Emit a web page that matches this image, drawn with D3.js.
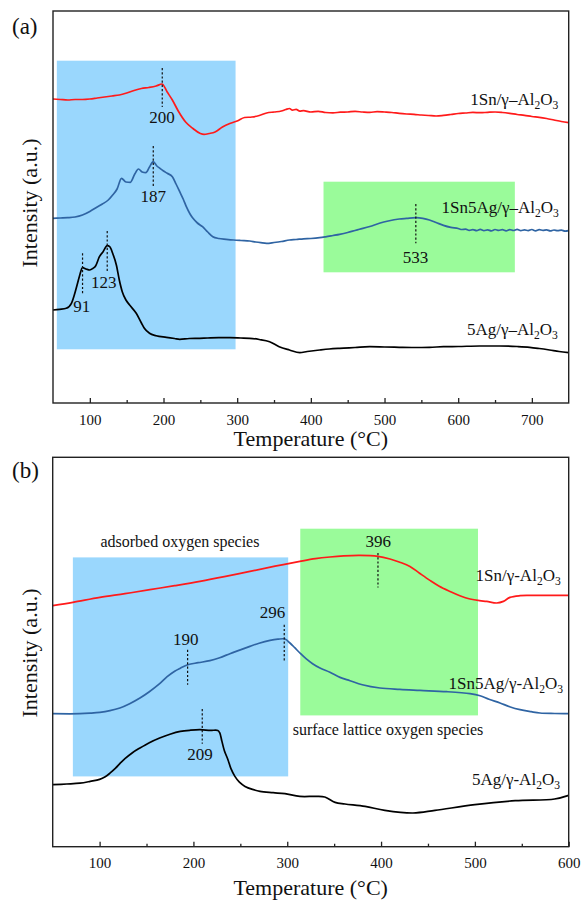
<!DOCTYPE html>
<html><head><meta charset="utf-8">
<script src="https://cdn.jsdelivr.net/npm/d3@7"></script>
<style>
body{margin:0;background:#fff}
svg{display:block}
text{font-family:"Liberation Serif","Times New Roman",serif;fill:#111}
</style>
</head><body>
<svg id="c" width="582" height="901"></svg>
<script>
// ---------- DATA: panel (a), [temperature °C, intensity a.u.] ----------
const seriesNamesA = ["1Sn/γ–Al|2|O|3", "1Sn5Ag/γ–Al|2|O|3", "5Ag/γ–Al|2|O|3"];
const redA = [[50,304],[60,303.5],[70,303],[80,303.5],[90,303.5],[100,304],[110,305],[120,306],[130,307],[140,308],
 [150,310],[160,312.5],[170,314.5],[180,315.5],[190,317],[198,319],[205,311],[212,303],[220,292],[230,281],
 [240,274.5],[250,269.5],[255,268.7],[262,269.5],[270,271],[280,276],[290,279.5],[300,282],[310,285.5],[320,286],
 [330,287.5],[340,290],[350,291],[360,292],[366,293.5],[371,294.5],[375,292.8],[380,293.6],[385,291.8],[390,292.3],[400,291],
 [410,291.7],[420,290.5],[430,290.2],[440,290.8],[450,291],[460,291.6],[470,291],[480,290.6],[490,291.4],[500,291],
 [510,290.5],[520,289.6],[530,289],[540,288.6],[550,288],[560,287.5],[570,287],[580,287.6],[590,288.5],[600,289.5],
 [610,290],[620,290.6],[630,290.3],[640,290.7],[650,291],[660,290.5],[670,289.6],[680,288.5],[690,287.6],[700,286.5],
 [710,285.7],[720,284.5],[730,283],[740,281.5],[750,280.3]];
const blueA = [[50,184.7],[60,185],[70,185.3],[80,186],[90,188],[100,191.5],[110,196],[117,199],[125,203],[131,208],
 [137,214],[143,224.7],[149,221],[155,220.7],[161,229],[166,234],[171,231],[176,230.3],[181,236],[186,241.3],
 [191,237],[195,234.7],[200,232],[205,229.7],[212,226.3],[217,219],[222,211.3],[227,203.5],[231,196.3],[236,189],
 [240,184.7],[246,180],[253,176.3],[260,171],[267,166.3],[275,164.5],[285,163.7],[295,163],[305,162.5],[317,162],
 [325,161],[332,160.3],[340,159.7],[350,160.5],[360,161.5],[371,163],[380,163.5],[390,164.2],[400,164.5],[412,165.3],
 [420,166.2],[430,167.5],[439,168.7],[450,170.5],[460,172.5],[466,173.7],[480,176.5],[493,179.7],[505,182],[520,184],
 [530,184.6],[543,185.3],[552,184.6],[561,183],[570,180.5],[580,177.6],[590,175.6],[600,174.5],[605,173.5],[610,173.8],
 [615,172.6],[620,173.4],[625,172.3],[630,173.6],[635,172.4],[640,173.2],[645,172.1],[650,173.5],[655,172.6],[660,173.3],
 [665,172.2],[670,173.4],[675,172.5],[680,173.6],[685,172.3],[690,173.1],[695,172.4],[700,173.5],[705,172.2],[710,173.3],
 [715,172.6],[720,173.2],[725,172.1],[730,173],[735,172.3],[740,172.9],[745,171.8],[750,172.3]];
const blackA = [[50,93],[59,93.7],[68,94.7],[75,99.7],[81.5,114.7],[86,127],[90,135.3],[95,134],[100,133],[104,134.5],
 [108,137.3],[113,146.3],[118,151.3],[123.6,157.3],[127,156.3],[131,149.7],[136,138],[140,123],[144,111.3],[149,103],
 [154,98],[163,89.7],[170,80],[174,74.7],[181,69.7],[190,67.3],[204,65.7],[215,64.5],[222,63.7],[235,64.5],
 [249,64.7],[260,65],[275,65.3],[290,65.3],[305,65],[317,64.7],[330,63.5],[344,61.3],[357,56.3],[371,53],
 [385,50.3],[395,51.5],[412,53],[425,54],[439,54.7],[460,55.5],[480,56.3],[500,56],[520,55.7],[540,55.5],
 [561,55.7],[580,56.3],[600,56.5],[629,57],[656,57],[680,56.5],[697,55.7],[710,54.5],[724,53],[737,51.5],[750,50.3]];
const peakTempsA = [198.3, 186.1, 542.5, 90.1, 123.6];
const peakLabelsA = ["200", "187", "533", "91", "123"];

// ---------- DATA: panel (b) ----------
const seriesNamesB = ["1Sn/γ-Al|2|O|3", "1Sn5Ag/γ-Al|2|O|3", "5Ag/γ-Al|2|O|3"];
const redB = [[50,241],[71.5,244.3],[100.3,249.3],[127,253],[153.6,257],[180,261],[206.9,265.3],[233,270],[260.2,275.3],
 [287,280.5],[313.5,285.3],[330,288],[345.5,289.7],[360,290.8],[377.5,291.3],[396.7,290.3],[409.5,287.7],[420,284.5],
 [430.8,280.3],[441,273.5],[452.1,266.3],[462,260.5],[473.5,255.3],[484,251],[494.8,247.7],[505,246],[512.6,245.3],
 [523.3,243.7],[530.4,245.3],[537.4,249.3],[548.1,251],[558.7,251.3],[600,251.3]];
const blueB = [[50,133],[79,133],[90,133.5],[100.3,134.3],[111,136],[121.6,138.7],[132,143],[143,148.7],[153,155],
 [164,163],[172,170],[180,175.5],[186,178.5],[194,182],[205,184],[217.6,186],[228,189],[238.9,193],[250,196.8],
 [260.2,200.3],[270,203.5],[281.6,206.3],[290,207.5],[297.5,207.7],[302.9,203.7],[308,199],[313.5,193.7],[320,188],
 [327,183],[334.9,178.7],[345.5,174.5],[356.2,169.3],[366.9,166],[380,162],[398.8,158.7],[420,157.3],[441.5,156.3],
 [470,155],[494.8,153],[505.5,151],[515,147.5],[526.8,143.7],[537,140],[548.1,137],[560,135],[569.4,133.7],[585,133.2],[600,133]];
const blackB = [[50,62],[65,62.7],[79,63.5],[90,65.3],[100,67.3],[106,70],[111,73.5],[117,78.5],[122,83.5],[127,88],
 [135,94],[143,98.7],[153,104],[164,108.7],[175,112.5],[186,115.3],[197,116.5],[207,117],[218,116.3],
 [226,116.3],[228,114],[230.4,105.3],[233,96],[236.8,87],[240,78],[244.2,70.3],[249,64.5],[255,60.3],[263,57.3],
 [271,55.3],[285,54],[297.5,53],[313.5,50.3],[330,50.3],[340,49.7],[351,44.3],[361.5,42.7],[383,40.3],[404,36.3],
 [434,33.7],[457.5,36.3],[500,42],[543,46],[585,47.7],[600,51.3]];
const peakTempsB = [193.8, 296.8, 396.7, 209.4];
const peakLabelsB = ["190", "296", "396", "209"];
const notesB = ["adsorbed oxygen species", "surface lattice oxygen species"];

const ticksA = [100,200,300,400,500,600,700];
const minorA = [150,250,350,450,550,650];
const ticksB = [100,200,300,400,500,600];
const minorB = [150,250,350,450,550];

// ---------- LAYOUT ----------
const COLORS = {red:"#ff1a1a", blue:"#2f64a3", black:"#000", bgBlue:"#9ad7fd", bgGreen:"#9afb9a"};
const svg = d3.select("#c");

const panels = [
 {tag:"(a)", tagY:34, left:53, right:568.7, top:11, bottom:403, xDom:[50,750], yDom:[0,392],
  ticks:ticksA, minor:minorA, titleY:446, ylabY:203, curve:d3.curveMonotoneX,
  series:[redA, blueA, blackA], colors:[COLORS.red, COLORS.blue, COLORS.black],
  names:seriesNamesA, nameAt:[[735.8,298],[736.6,189.7],[735.3,68]],
  rects:[{c:COLORS.bgBlue, x:[55.2,297.8], y:[53.7,342.3]}, {c:COLORS.bgGreen, x:[417.2,676.9], y:[130.7,221.3]}],
  peaks:peakTempsA, peakLabels:peakLabelsA,
  dash:[[296,335],[216.3,257],[159.7,199],[109.7,149.7],[131.3,172]],
  labelAt:[[197.9,280],[186,201.3],[542.1,139.7],[89.1,91.3],[119,114.7]],
  notes:[] },
 {tag:"(b)", tagY:478, left:52.7, right:568.7, top:457.3, bottom:846.7, xDom:[50,600], yDom:[0,389.4],
  ticks:ticksB, minor:minorB, titleY:895, ylabY:653, curve:d3.curveCatmullRom.alpha(0.5),
  series:[redB, blueB, blackB], colors:[COLORS.red, COLORS.blue, COLORS.black],
  names:seriesNamesB, nameAt:[[591.5,265.3],[593.9,158],[590.7,62]],
  rects:[{c:COLORS.bgBlue, x:[71.5,301], y:[70.3,289.3]}, {c:COLORS.bgGreen, x:[313.9,503.3], y:[131.3,318]}],
  peaks:peakTempsB, peakLabels:peakLabelsB,
  dash:[[162,197],[186.3,222],[259.3,293.7],[103,137.7]],
  labelAt:[[191.7,202],[284.4,228.7],[397,299.7],[206.9,86.3]],
  notes:[{t:notesB[0], at:[185.6,300], anchor:"middle"}, {t:notesB[1], at:[305.8,111.3], anchor:"start"}] }
];

function chem(g, x, y, spec, size, anchor){
  const parts = spec.split("|");
  const t = g.append("text").attr("x", x).attr("y", y).attr("text-anchor", anchor)
    .style("font-size", size + "px");
  parts.forEach((p, i) => {
    const sub = i % 2 === 1;
    const ts = t.append("tspan").text(p);
    if (sub) ts.attr("dy", 4).style("font-size", (size*0.68) + "px");
    else if (i > 0) ts.attr("dy", -4);
  });
}

panels.forEach(P => {
  const x = d3.scaleLinear().domain(P.xDom).range([P.left, P.right]);
  const y = d3.scaleLinear().domain(P.yDom).range([P.bottom, P.top]);
  const g = svg.append("g");

  P.rects.forEach(r => {
    g.append("rect").attr("x", x(r.x[0])).attr("y", y(r.y[1]))
      .attr("width", x(r.x[1]) - x(r.x[0])).attr("height", y(r.y[0]) - y(r.y[1]))
      .attr("fill", r.c);
  });

  const line = d3.line().x(d => x(d[0])).y(d => y(d[1])).curve(P.curve);
  P.series.forEach((s, i) => {
    g.append("path").datum(s).attr("d", line).attr("fill", "none")
      .attr("stroke", P.colors[i]).attr("stroke-width", 1.7).attr("stroke-linejoin", "round");
  });

  P.peaks.forEach((t, i) => {
    g.append("line").attr("x1", x(t)).attr("x2", x(t))
      .attr("y1", y(P.dash[i][1])).attr("y2", y(P.dash[i][0]))
      .attr("stroke", "#111").attr("stroke-width", 1.2).attr("stroke-dasharray", "2.2,2");
    g.append("text").attr("x", x(P.labelAt[i][0])).attr("y", y(P.labelAt[i][1]))
      .attr("text-anchor", "middle").style("font-size", "17px").text(P.peakLabels[i]);
  });

  P.names.forEach((n, i) => chem(g, x(P.nameAt[i][0]), y(P.nameAt[i][1]), n, 17, "end"));

  P.notes.forEach(n => {
    g.append("text").attr("x", x(n.at[0])).attr("y", y(n.at[1])).attr("text-anchor", n.anchor)
      .style("font-size", "16px").text(n.t);
  });

  const ax = g.append("g").attr("transform", `translate(0,${P.bottom})`)
    .call(d3.axisBottom(x).tickValues(P.ticks).tickSize(-5).tickPadding(11).tickFormat(d3.format("d")));
  ax.select(".domain").remove();
  ax.attr("font-family", null);
  ax.selectAll("line").attr("stroke", "#222").attr("stroke-width", 1.3);
  ax.selectAll("text").style("font-size", "15px").attr("fill", "#111")
    .style("font-family", '"Liberation Serif","Times New Roman",serif');
  const axm = g.append("g").attr("transform", `translate(0,${P.bottom})`)
    .call(d3.axisBottom(x).tickValues(P.minor).tickSize(-3).tickFormat(""));
  axm.select(".domain").remove();
  axm.selectAll("line").attr("stroke", "#222").attr("stroke-width", 1.3);

  g.append("rect").attr("x", P.left).attr("y", P.top).attr("width", P.right - P.left)
    .attr("height", P.bottom - P.top).attr("fill", "none").attr("stroke", "#222").attr("stroke-width", 1.4);

  g.append("text").attr("x", (P.left + P.right) / 2).attr("y", P.titleY).attr("text-anchor", "middle")
    .style("font-size", "22px").text("Temperature (°C)");
  g.append("text").attr("transform", `translate(37,${P.ylabY}) rotate(-90)`).attr("text-anchor", "middle")
    .style("font-size", "22px").text("Intensity (a.u.)");
  g.append("text").attr("x", 12).attr("y", P.tagY).style("font-size", "23px").text(P.tag);
});
</script>
</body></html>
